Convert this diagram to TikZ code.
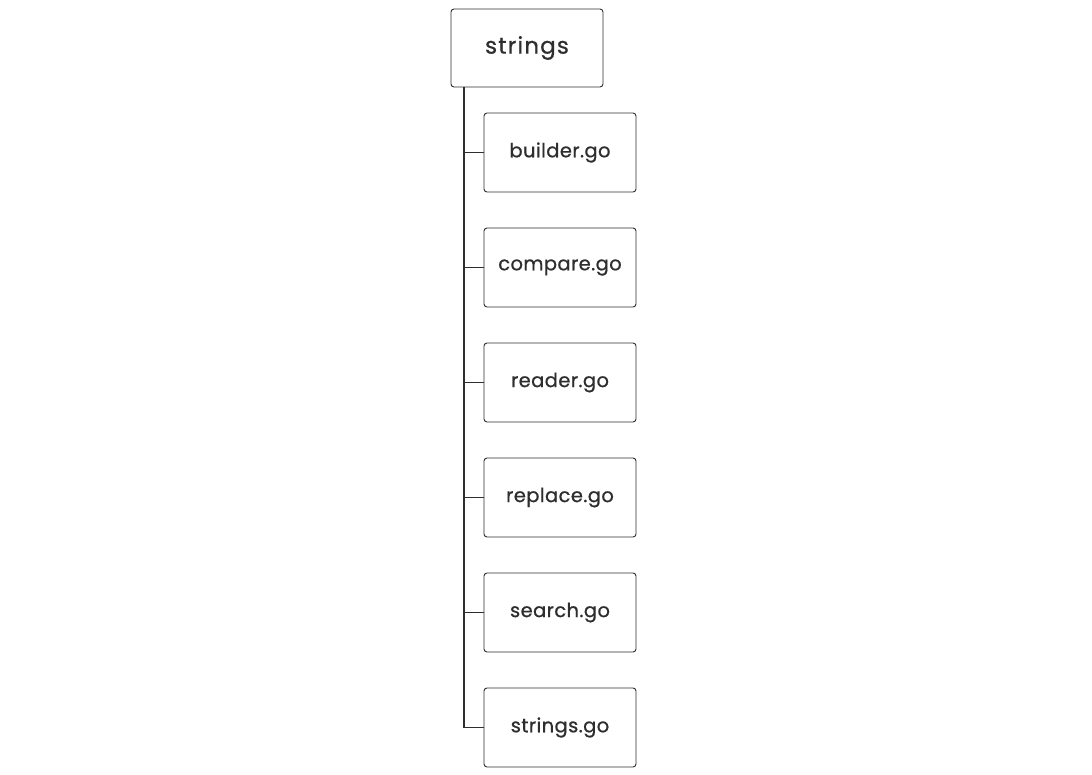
\documentclass[tikz,border=0pt]{standalone}
\usepackage{fontspec}
\setmainfont{Poppins}
\newfontface\rootface{Poppins}[FakeBold=0.7, LetterSpace=5]
\newfontface\fileface{Poppins}[FakeBold=0.7, LetterSpace=2]
\definecolor{ink}{HTML}{2E2E2E}
\begin{document}
\begin{tikzpicture}[x=1pt,y=-1pt,
  box/.style={draw=ink, line width=0.9pt, rounded corners=3pt, minimum width=152pt, minimum height=79pt, inner sep=0pt, text=ink, fill=white},
  rootbox/.style={box, minimum height=78pt, font=\rootface\fontsize{23}{25}\selectfont},
  filebox/.style={box, font=\fileface\fontsize{19.5}{21}\selectfont},
  trunk/.style={draw=ink, line width=1.8pt},
  stub/.style={draw=ink, line width=1pt}]
\useasboundingbox (0,0) rectangle (1092,775);
\node[rootbox] (root) at (527,48) {strings};
\node[filebox] (f1) at (560,152.5) {builder.go};
\node[filebox] (f2) at (560,267.5) {compare.go};
\node[filebox] (f3) at (560,382.5) {reader.go};
\node[filebox] (f4) at (560,497.5) {replace.go};
\node[filebox] (f5) at (560,612.5) {search.go};
\node[filebox] (f6) at (560,727.5) {strings.go};
\coordinate (top) at (464,87);
\coordinate (bend) at (464,727.5);
\draw[trunk] (top) -- (bend);
\draw[stub] (bend) -- (f6.west);
\foreach \i in {1,...,5} {
  \draw[stub] (f\i.west -| top) -- (f\i.west);
}
\end{tikzpicture}
\end{document}
